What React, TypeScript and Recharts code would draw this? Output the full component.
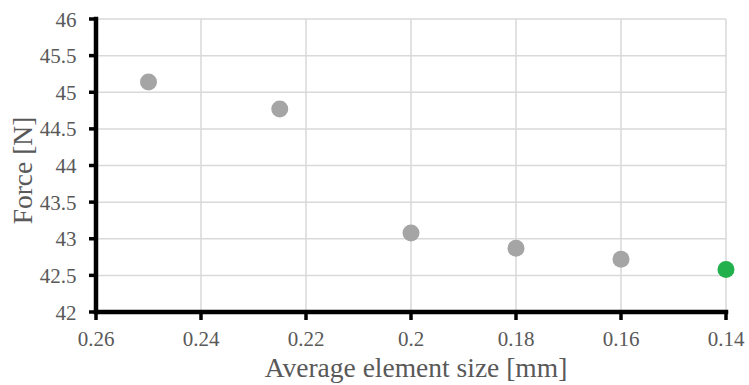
import React from 'react';
import { ScatterChart, Scatter, XAxis, YAxis, CartesianGrid, Label, ReferenceLine } from 'recharts';

const elementSizes = [0.25, 0.225, 0.2, 0.18, 0.16];
const forces = [45.14, 44.77, 43.08, 42.87, 42.72];
const finalSizes = [0.14];
const finalForces = [42.58];
const xTicks = [0.14, 0.16, 0.18, 0.2, 0.22, 0.24, 0.26];
const yTicks = [42, 42.5, 43, 43.5, 44, 44.5, 45, 45.5, 46];

const grayData = elementSizes.map((x, i) => ({ x, y: forces[i] }));
const greenData = finalSizes.map((x, i) => ({ x, y: finalForces[i] }));

const FONT = '"Liberation Serif", "Times New Roman", serif';
const TICK_COLOR = '#595959';
const AXIS_COLOR = '#000000';

const makeDot = (fill: string) => (props: any) => (
  <circle cx={props.cx} cy={props.cy} r={8.5} fill={fill} />
);

const XTick = (props: any) => {
  const { x, y, payload } = props;
  return (
    <g>
      <line x1={x} x2={x} y1={y} y2={y + 8} stroke={AXIS_COLOR} strokeWidth={3.5} />
      <text
        x={x}
        y={y + 34}
        textAnchor="middle"
        style={{ fill: TICK_COLOR, fontFamily: FONT, fontSize: 21 }}
      >
        {String(payload.value)}
      </text>
    </g>
  );
};

const YTick = (props: any) => {
  const { x, y, payload } = props;
  return (
    <g>
      <line x1={x - 7} x2={x} y1={y} y2={y} stroke={AXIS_COLOR} strokeWidth={3.5} />
      <text
        x={x - 19.5}
        y={y + 7.5}
        textAnchor="end"
        style={{ fill: TICK_COLOR, fontFamily: FONT, fontSize: 21 }}
      >
        {String(payload.value)}
      </text>
    </g>
  );
};

const YTitle = (props: any) => {
  const vb = props.viewBox || { x: 0, y: 0, width: 0, height: 0 };
  const cx = vb.x + 32;
  const cy = vb.y + vb.height / 2 + 5;
  return (
    <text
      x={cx}
      y={cy}
      transform={`rotate(-90 ${cx} ${cy})`}
      textAnchor="middle"
      style={{ fill: TICK_COLOR, fontFamily: FONT, fontSize: 27.5 }}
    >
      Force [N]
    </text>
  );
};

const XTitle = (props: any) => {
  const vb = props.viewBox || { x: 0, y: 0, width: 0, height: 0 };
  const cx = vb.x + vb.width / 2 + 5;
  const cy = vb.y + vb.height - 8;
  return (
    <text x={cx} y={cy} textAnchor="middle" style={{ fill: TICK_COLOR, fontFamily: FONT, fontSize: 27.5 }}>
      Average element size [mm]
    </text>
  );
};

export default function App() {
  return (
    <div style={{ position: 'absolute', left: 0, top: 0, width: 749, height: 385, background: '#fff', fontFamily: FONT }}>
      <ScatterChart width={749} height={385} margin={{ top: 19, right: 23, bottom: 0, left: 0 }}>
        <CartesianGrid stroke="#d9d9d9" strokeWidth={1.5} />
        <XAxis
          type="number"
          dataKey="x"
          domain={[0.14, 0.26]}
          ticks={xTicks}
          reversed
          height={73}
          tickSize={0}
          tickMargin={0}
          axisLine={false}
          tickLine={false}
          tick={<XTick />}
          interval={0}
        >
          <Label content={XTitle} position="insideBottom" />
        </XAxis>
        <YAxis
          type="number"
          dataKey="y"
          domain={[42, 46]}
          ticks={yTicks}
          width={96}
          tickSize={0}
          tickMargin={0}
          axisLine={false}
          tickLine={false}
          tick={<YTick />}
          interval={0}
        >
          <Label content={YTitle} position="insideLeft" />
        </YAxis>
        <ReferenceLine x={0.26} stroke={AXIS_COLOR} strokeWidth={4.5} strokeLinecap="square" ifOverflow="visible" />
        <ReferenceLine y={42} stroke={AXIS_COLOR} strokeWidth={4.5} strokeLinecap="square" ifOverflow="visible" />
        <Scatter data={grayData} fill="#a5a5a5" shape={makeDot('#a5a5a5')} isAnimationActive={false} />
        <Scatter data={greenData} fill="#21b04b" shape={makeDot('#21b04b')} isAnimationActive={false} />
      </ScatterChart>
    </div>
  );
}
